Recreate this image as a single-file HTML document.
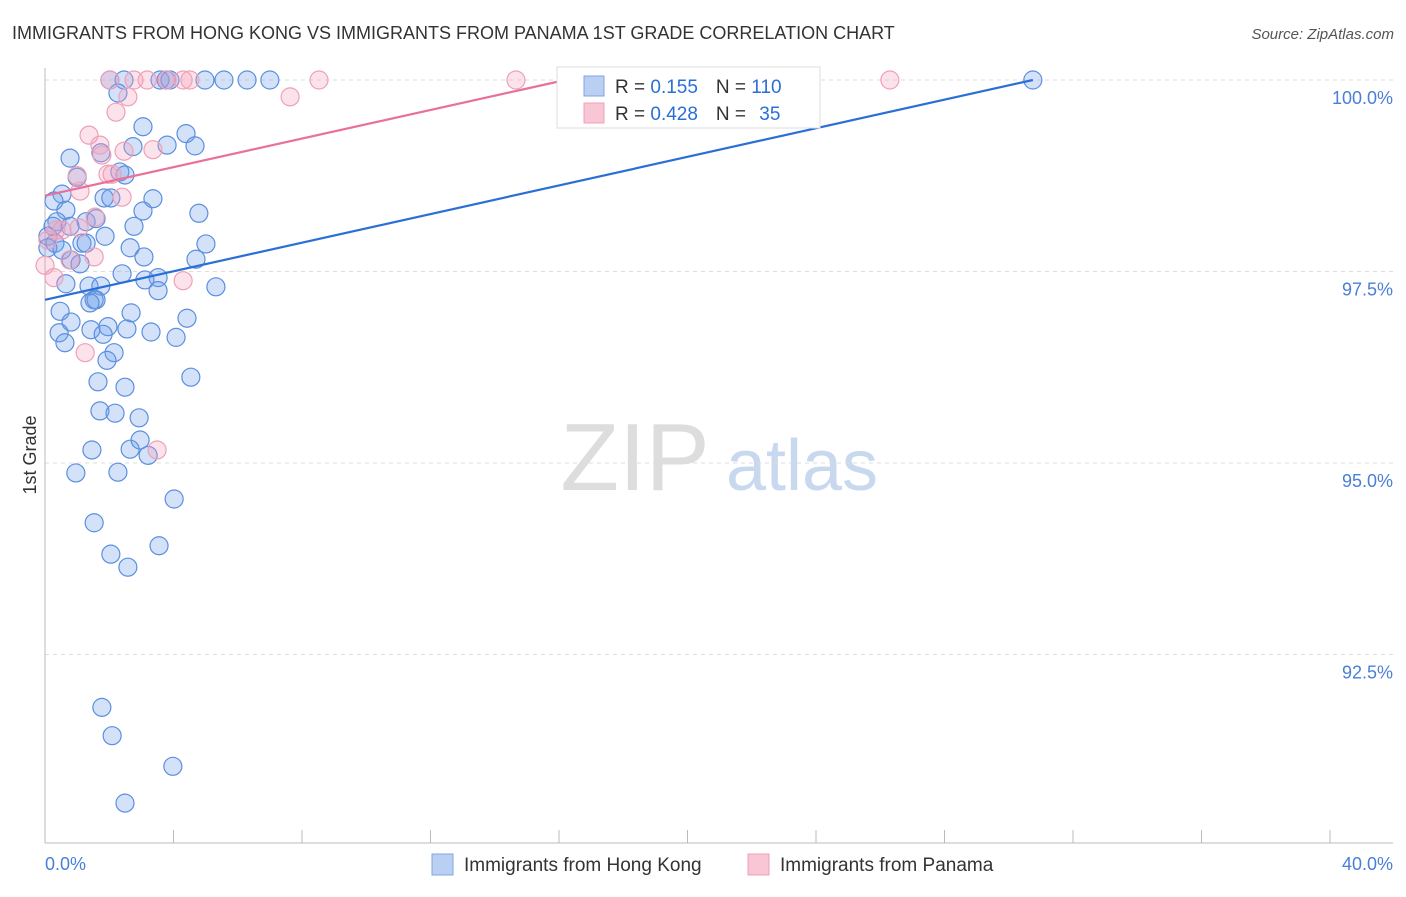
<!DOCTYPE html>
<html><head><meta charset="utf-8">
<style>
body{margin:0;background:#fff;font-family:"Liberation Sans",sans-serif;}
svg text{font-family:"Liberation Sans",sans-serif;}
</style></head>
<body>
<svg id="chart" width="1406" height="892" xmlns="http://www.w3.org/2000/svg">
<text x="12" y="39" font-size="18" fill="#333">IMMIGRANTS FROM HONG KONG VS IMMIGRANTS FROM PANAMA 1ST GRADE CORRELATION CHART</text>
<text x="1394" y="39" font-size="15" fill="#555" font-style="italic" text-anchor="end">Source: ZipAtlas.com</text>
<text x="36" y="455" font-size="18" fill="#333" text-anchor="middle" transform="rotate(-90 36 455)">1st Grade</text>
<g>
<text x="635" y="490" font-size="96" fill="#ddd" font-family="Liberation Serif" text-anchor="middle">ZIP</text>
<text x="802" y="490" font-size="72" fill="#c8d8ee" text-anchor="middle">atlas</text>
</g>
<g id="grid"></g>
<g id="axes"></g>
<g id="pts"></g>
<g id="lines"></g>
<g>
<rect x="557" y="67" width="263" height="61" fill="#fff" stroke="#ddd"/>
<rect x="584" y="76" width="20" height="20" fill="#b9d0f3" stroke="#7fa6e6"/>
<rect x="584" y="103" width="20" height="20" fill="#f8c6d5" stroke="#eea0b8"/>
<text x="615" y="93" font-size="19" fill="#333">R = <tspan fill="#2a6fd6">0.155</tspan><tspan dx="18">N = </tspan><tspan fill="#2a6fd6">110</tspan></text>
<text x="615" y="120" font-size="19" fill="#333">R = <tspan fill="#2a6fd6">0.428</tspan><tspan dx="18">N = </tspan><tspan dx="8" fill="#2a6fd6">35</tspan></text>
</g>
<g>
<rect x="432" y="854" width="21" height="21" fill="#b9d0f3" stroke="#7fa6e6"/>
<text x="464" y="871" font-size="19" fill="#333">Immigrants from Hong Kong</text>
<rect x="748" y="854" width="21" height="21" fill="#f8c6d5" stroke="#eea0b8"/>
<text x="780" y="871" font-size="19" fill="#333">Immigrants from Panama</text>
</g>
</svg>
<script>
const yTicks=[100,97.5,95,92.5];
const yTickLabels=["100.0%","97.5%","95.0%","92.5%"];
const xTickLabels=["0.0%","40.0%"];
const blueX=[2.02,2.46,3.58,3.77,3.89,4.98,5.57,6.29,7.00,30.75,2.27,3.05,4.39,3.80,4.67,2.74,0.78,1.74,2.33,2.49,1.00,0.53,1.84,2.05,3.36,0.28,0.65,3.05,4.79,0.37,1.28,0.78,1.59,2.77,0.25,0.09,1.87,0.31,1.15,1.28,5.01,2.65,0.09,0.53,3.08,4.70,0.81,1.09,2.40,3.52,3.11,0.65,1.37,1.74,3.52,5.32,1.53,1.59,1.40,0.47,2.68,4.42,0.81,1.43,1.96,2.55,3.30,4.08,0.44,1.81,0.62,2.15,1.93,4.54,1.65,2.49,1.71,2.18,2.93,1.46,2.65,2.96,3.21,0.96,2.27,4.02,1.53,2.05,3.55,2.58,1.77,2.09,3.98,2.49];
const blueY=[100,100,100,100,100,100,100,100,100,100,99.83,99.39,99.30,99.15,99.14,99.13,98.98,99.05,98.80,98.76,98.73,98.51,98.46,98.46,98.45,98.42,98.30,98.29,98.26,98.15,98.15,98.09,98.19,98.09,98.09,97.96,97.96,97.87,97.87,97.87,97.86,97.81,97.81,97.78,97.69,97.66,97.65,97.60,97.47,97.42,97.39,97.34,97.31,97.31,97.25,97.30,97.13,97.13,97.09,96.98,96.96,96.89,96.84,96.74,96.78,96.75,96.71,96.64,96.70,96.68,96.57,96.44,96.34,96.12,96.06,95.99,95.68,95.65,95.59,95.17,95.18,95.30,95.10,94.87,94.88,94.53,94.22,93.81,93.92,93.64,91.81,91.44,91.04,90.56];
const pinkX=[2.02,2.77,3.18,3.80,4.30,4.51,14.66,26.30,8.53,2.58,7.63,2.21,1.37,1.71,1.77,2.46,3.36,1.96,1.00,1.09,2.40,1.56,1.06,0.34,0.09,0.0,0.28,0.78,1.53,4.30,1.25,3.49,0.53,2.09];
const pinkY=[100,100,100,100,100,100,100,100,100,99.78,99.78,99.58,99.28,99.15,99.02,99.07,99.09,98.77,98.75,98.55,98.47,98.21,98.07,98.04,97.91,97.58,97.42,97.65,97.69,97.38,96.44,95.17,98.04,98.77];
const blueTrendX=[0,30.75];const blueTrendY=[97.13,100];
const pinkTrendX=[0,16.2];const pinkTrendY=[98.49,100];
const NS="http://www.w3.org/2000/svg";
const xs=v=>45+v*(1285/40);
const ys=v=>80+(100-v)*76.6;
function mk(tag,attrs,parent){const e=document.createElementNS(NS,tag);for(const k in attrs)e.setAttribute(k,attrs[k]);document.getElementById(parent).appendChild(e);return e;}
yTicks.forEach((t,i)=>{
 const l=mk('line',{x1:45,x2:1393,y1:ys(t),y2:ys(t),stroke:'#ddd','stroke-dasharray':'4,4'},'grid');
 
 
 const tx=mk('text',{x:1393,y:ys(t)+24,'font-size':18,fill:'#4a7fd6','text-anchor':'end'},'grid');
 tx.textContent=yTickLabels[i];
 
 
});
const ax=mk('line',{x1:45,x2:45,y1:68,y2:843,stroke:'#bbb'},'axes');


const bx=mk('line',{x1:45,x2:1393,y1:843,y2:843,stroke:'#bbb'},'axes');


for(let i=0;i<=10;i++){const t=mk('line',{x1:xs(i*4),x2:xs(i*4),y1:830,y2:843,stroke:'#bbb'},'axes');
 
 }
[[0,'start',45],[40,'end',1393]].forEach((d,i)=>{const t=mk('text',{x:d[2],y:870,'font-size':18,fill:'#4a7fd6','text-anchor':d[1]},'axes');t.textContent=xTickLabels[i];
 
 });
blueX.forEach((v,i)=>{const c=mk('circle',{cx:xs(v),cy:ys(blueY[i]),r:9,fill:'rgba(110,160,235,0.3)',stroke:'#5b8fde','stroke-width':1.2},'pts');
 
 });
pinkX.forEach((v,i)=>{const c=mk('circle',{cx:xs(v),cy:ys(pinkY[i]),r:9,fill:'rgba(245,160,190,0.3)',stroke:'#eea0b8','stroke-width':1.2},'pts');
 
 });
const bl=mk('line',{x1:xs(blueTrendX[0]),y1:ys(blueTrendY[0]),x2:xs(blueTrendX[1]),y2:ys(blueTrendY[1]),stroke:'#2a6fd6','stroke-width':2.2},'lines');


const pl=mk('line',{x1:xs(pinkTrendX[0]),y1:ys(pinkTrendY[0]),x2:xs(pinkTrendX[1]),y2:ys(pinkTrendY[1]),stroke:'#e8709a','stroke-width':2.2},'lines');


</script>
</body></html>
